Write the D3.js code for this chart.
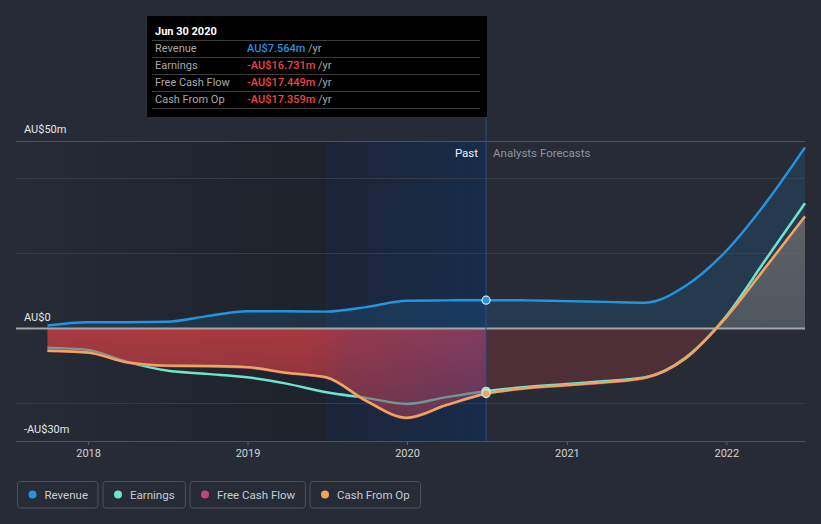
<!DOCTYPE html>
<html>
<head>
<meta charset="utf-8">
<script src="https://cdn.jsdelivr.net/npm/d3@7"></script>
<style>
  html, body { margin: 0; padding: 0; background: #262b36; }
  svg { display: block; font-family: Roboto, "Noto Sans", sans-serif; }
</style>
</head>
<body>
<svg id="chart" width="821" height="524"></svg>
<script>
// ---------------- DATA ----------------
const dates = ["2017-09-30","2017-12-31","2018-03-31","2018-06-30","2018-09-30","2018-12-31",
  "2019-03-31","2019-06-30","2019-09-30","2019-12-31","2020-03-31","2020-06-30",
  "2020-09-30","2020-12-31","2021-03-31","2021-06-30","2021-09-30","2021-12-31","2022-03-31","2022-06-30"];
const revenue  = [0.8, 1.7, 1.7, 1.8, 3.3, 4.6, 4.6, 4.5, 5.7, 7.4, 7.5, 7.564,
  7.5, 7.3, 7.1, 6.9, 11.4, 20.6, 33.3, 48.3];
const earnings = [-5.1, -5.7, -8.9, -11.2, -12.1, -13.0, -14.7, -17.0, -18.5, -20.1, -18.3, -16.731,
  -15.6, -14.8, -14.0, -13.0, -7.7, 3.2, 18.2, 33.4];
const freeCashFlow = [-6.0, -6.4, -9.1, -10.0, -10.1, -10.4, -11.9, -13.1, -19.4, -23.9, -20.5, -17.449,
  -16.0, -15.2, -14.4, -13.2, -8.0, 2.8, 16.1, 29.8];
const cashFromOp = [-5.9, -6.4, -9.0, -9.9, -10.0, -10.3, -11.8, -13.0, -19.3, -23.8, -20.4, -17.359,
  -15.9, -15.1, -14.3, -13.1, -7.9, 2.9, 16.2, 29.9];

const currentDate = "2020-06-30";
const highlightStart = "2019-06-30";
const domainStart = "2017-07-20";
const domainEnd = "2022-06-30";

const yDomain = [-30, 50];
const yGridValues = [-20, 20, 40];
const yLabelValues = [50, 0, -30];
const yLabels = ["AU$50m", "AU$0", "-AU$30m"];

const tooltipTitle = "Jun 30 2020";
const tooltipLabels = ["Revenue", "Earnings", "Free Cash Flow", "Cash From Op"];
const tooltipValues = ["AU$7.564m", "-AU$16.731m", "-AU$17.449m", "-AU$17.359m"];
const tooltipUnit = "/yr";

const legendNames = ["Revenue", "Earnings", "Free Cash Flow", "Cash From Op"];
const seriesColors = ["#2394df", "#6fe3cf", "#c2457f", "#e9a95c"];

// ---------------- SETUP ----------------
const parse = d3.timeParse("%Y-%m-%d");
const T = dates.map(parse);
const svg = d3.select("#chart");
const W = 821, H = 524;
const pLeft = 16, pRight = 805, pTop = 141, pBottom = 441;

const x = d3.scaleTime().domain([parse(domainStart), parse(domainEnd)]).range([pLeft, pRight]);
const y = d3.scaleLinear().domain(yDomain).range([pBottom, pTop]);
const xNow = x(parse(currentDate));
const xHl = x(parse(highlightStart));
const y0 = y(0);

const defs = svg.append("defs");

// background
svg.append("rect").attr("width", W).attr("height", H).attr("fill", "#262b36");

// past darkening gradient
const gPast = defs.append("linearGradient").attr("id", "pastBg")
  .attr("gradientUnits", "userSpaceOnUse").attr("x1", pLeft).attr("x2", xHl).attr("y1", 0).attr("y2", 0);
gPast.append("stop").attr("offset", 0).attr("stop-color", "#000").attr("stop-opacity", 0.0);
gPast.append("stop").attr("offset", 1).attr("stop-color", "#000").attr("stop-opacity", 0.22);
svg.append("rect").attr("x", pLeft).attr("y", pTop).attr("width", xHl - pLeft).attr("height", pBottom - pTop)
  .attr("fill", "url(#pastBg)");

// highlight
const gHl = defs.append("linearGradient").attr("id", "hlBg")
  .attr("gradientUnits", "userSpaceOnUse").attr("x1", xHl).attr("x2", xNow).attr("y1", 0).attr("y2", 0);
gHl.append("stop").attr("offset", 0).attr("stop-color", "#1c2537");
gHl.append("stop").attr("offset", 1).attr("stop-color", "#172c4b");
svg.append("rect").attr("x", xHl).attr("y", pTop).attr("width", xNow - xHl).attr("height", pBottom - pTop)
  .attr("fill", "url(#hlBg)");

// grid lines
svg.append("g").selectAll("line").data(yGridValues).join("line")
  .attr("x1", pLeft).attr("x2", pRight).attr("y1", d => y(d)).attr("y2", d => y(d))
  .attr("stroke", "#343a47").attr("stroke-width", 1);
svg.append("line").attr("x1", pLeft).attr("x2", pRight).attr("y1", y(yDomain[1]) + 0.5).attr("y2", y(yDomain[1]) + 0.5)
  .attr("stroke", "#4a505c").attr("stroke-width", 1);

// x axis
const xAxis = svg.append("g").attr("transform", `translate(0,${pBottom})`)
  .call(d3.axisBottom(x).ticks(d3.timeYear.every(1)).tickFormat(d3.timeFormat("%Y")).tickSize(4).tickPadding(4));
xAxis.select(".domain").remove();
xAxis.selectAll(".tick line").attr("stroke", "#5a606c");
xAxis.selectAll(".tick text").attr("fill", "#d4d4d4").attr("font-size", 11).attr("font-family", "Roboto, sans-serif");
svg.append("line").attr("x1", pLeft).attr("x2", pRight).attr("y1", pBottom + 0.5).attr("y2", pBottom + 0.5)
  .attr("stroke", "#4c525e").attr("stroke-width", 1);

// clip paths
defs.append("clipPath").attr("id", "clipPast").append("rect")
  .attr("x", 0).attr("y", 0).attr("width", xNow).attr("height", H);
defs.append("clipPath").attr("id", "clipFore").append("rect")
  .attr("x", xNow).attr("y", 0).attr("width", W - xNow).attr("height", H);
defs.append("clipPath").attr("id", "clipPos").append("rect")
  .attr("x", 0).attr("y", 0).attr("width", W).attr("height", y0);
defs.append("clipPath").attr("id", "clipNeg").append("rect")
  .attr("x", 0).attr("y", y0).attr("width", W).attr("height", H - y0);

const curve = d3.curveMonotoneX;
const lineGen = d3.line().x((d, i) => x(T[i])).y(d => y(d)).curve(curve);
const areaGen = d3.area().x((d, i) => x(T[i])).y0(y0).y1(d => y(d)).curve(curve);

// revenue area
svg.append("path").attr("d", areaGen(revenue)).attr("fill", seriesColors[0]).attr("fill-opacity", 0.15);

// FCF area: past negative (red gradient)
const gRed = defs.append("linearGradient").attr("id", "redPast")
  .attr("gradientUnits", "userSpaceOnUse").attr("x1", pLeft).attr("x2", xNow).attr("y1", 0).attr("y2", 0);
gRed.append("stop").attr("offset", 0).attr("stop-color", "rgb(204,62,68)");
gRed.append("stop").attr("offset", (xHl - 20 - pLeft) / (xNow - pLeft)).attr("stop-color", "rgb(204,62,68)");
gRed.append("stop").attr("offset", (xHl + 20 - pLeft) / (xNow - pLeft)).attr("stop-color", "rgb(182,62,82)");
gRed.append("stop").attr("offset", 1).attr("stop-color", "rgb(155,65,102)");
const gMask = defs.append("linearGradient").attr("id", "vMaskGrad")
  .attr("gradientUnits", "userSpaceOnUse").attr("x1", 0).attr("x2", 0).attr("y1", y0).attr("y2", y(-25));
gMask.append("stop").attr("offset", 0).attr("stop-color", "#fff").attr("stop-opacity", 0.8);
gMask.append("stop").attr("offset", 1).attr("stop-color", "#fff").attr("stop-opacity", 0.55);
defs.append("mask").attr("id", "vMask").attr("maskUnits", "userSpaceOnUse")
  .attr("x", 0).attr("y", 0).attr("width", W).attr("height", H)
  .append("rect").attr("width", W).attr("height", H).attr("fill", "url(#vMaskGrad)");

svg.append("g").attr("clip-path", "url(#clipPast)")
  .append("g").attr("clip-path", "url(#clipNeg)")
  .append("path").attr("d", areaGen(freeCashFlow)).attr("fill", "url(#redPast)").attr("mask", "url(#vMask)");

// forecast negative
svg.append("g").attr("clip-path", "url(#clipFore)")
  .append("g").attr("clip-path", "url(#clipNeg)")
  .append("path").attr("d", areaGen(freeCashFlow)).attr("fill", "rgb(200,58,64)").attr("fill-opacity", 0.25);

// forecast positive (grey)
const gGrey = defs.append("linearGradient").attr("id", "greyFore")
  .attr("gradientUnits", "userSpaceOnUse").attr("x1", 0).attr("x2", 0).attr("y1", y(30)).attr("y2", y0);
gGrey.append("stop").attr("offset", 0).attr("stop-color", "rgb(118,114,112)").attr("stop-opacity", 0.72);
gGrey.append("stop").attr("offset", 1).attr("stop-color", "rgb(118,114,112)").attr("stop-opacity", 0.5);
svg.append("g").attr("clip-path", "url(#clipFore)")
  .append("g").attr("clip-path", "url(#clipPos)")
  .append("path").attr("d", areaGen(freeCashFlow)).attr("fill", "url(#greyFore)");

// zero line
svg.append("line").attr("x1", pLeft).attr("x2", pRight).attr("y1", y0).attr("y2", y0)
  .attr("stroke", "#a4a4a4").attr("stroke-width", 2);

// current date vertical line
svg.append("line").attr("x1", xNow).attr("x2", xNow).attr("y1", 117).attr("y2", pBottom)
  .attr("stroke", "#2a4d7e").attr("stroke-width", 1);

// earnings: full outside past FCF area, muted inside
const areaClip = defs.append("clipPath").attr("id", "clipFcfArea");
areaClip.append("path").attr("d", areaGen(freeCashFlow));
const outMask = defs.append("mask").attr("id", "outsideArea").attr("maskUnits", "userSpaceOnUse")
  .attr("x", 0).attr("y", 0).attr("width", W).attr("height", H);
outMask.append("rect").attr("width", W).attr("height", H).attr("fill", "#fff");
outMask.append("path").attr("d", areaGen(freeCashFlow)).attr("fill", "#000")
  .attr("clip-path", "url(#clipPast)");

svg.append("path").attr("d", lineGen(earnings)).attr("fill", "none")
  .attr("stroke", seriesColors[1]).attr("stroke-width", 2.5).attr("mask", "url(#outsideArea)");
svg.append("g").attr("clip-path", "url(#clipPast)")
  .append("g").attr("clip-path", "url(#clipFcfArea)")
  .append("path").attr("d", lineGen(earnings)).attr("fill", "none")
  .attr("stroke", seriesColors[1]).attr("stroke-opacity", 0.55).attr("stroke-width", 2.5);

// other lines
svg.append("path").attr("d", lineGen(freeCashFlow)).attr("fill", "none")
  .attr("stroke", seriesColors[2]).attr("stroke-width", 2.5);
svg.append("path").attr("d", lineGen(cashFromOp)).attr("fill", "none")
  .attr("stroke", seriesColors[3]).attr("stroke-width", 2.5);
svg.append("path").attr("d", lineGen(revenue)).attr("fill", "none")
  .attr("stroke", seriesColors[0]).attr("stroke-width", 2.5);

// dots at current date
const nowIdx = dates.indexOf(currentDate);
const dotSeries = [[earnings, seriesColors[1]], [cashFromOp, seriesColors[3]], [revenue, seriesColors[0]]];
svg.append("g").selectAll("circle").data(dotSeries).join("circle")
  .attr("cx", xNow).attr("cy", d => y(d[0][nowIdx])).attr("r", 4)
  .attr("fill", d => d[1]).attr("stroke", "#d8e6f0").attr("stroke-width", 1.2);

// Past / forecast labels
svg.append("text").attr("x", xNow - 8).attr("y", 157).attr("text-anchor", "end")
  .attr("fill", "#f0f0f0").attr("font-size", 11.5).text("Past");
svg.append("text").attr("x", xNow + 7).attr("y", 157)
  .attr("fill", "#8e949d").attr("font-size", 11.5).text("Analysts Forecasts");

// y labels
svg.append("g").selectAll("text").data(yLabelValues).join("text")
  .attr("x", 24).attr("y", d => y(d) - 8)
  .attr("fill", "#e6e6e6").attr("font-size", 11).text((d, i) => yLabels[i]);

// tooltip
const tt = svg.append("g");
tt.append("rect").attr("x", 147).attr("y", 16).attr("width", 340).attr("height", 101).attr("fill", "#000");
tt.append("text").attr("x", 155).attr("y", 35).attr("fill", "#fff").attr("font-size", 11)
  .attr("font-weight", "bold").text(tooltipTitle);
const rowY = [40.5, 57.5, 74.5, 91.5, 108.5];
tt.selectAll("line").data(rowY).join("line")
  .attr("x1", 152).attr("x2", 480).attr("y1", d => d).attr("y2", d => d)
  .attr("stroke", "#3c3c3c").attr("stroke-width", 1);
const valColors = tooltipValues.map(v => v.startsWith("-") ? "#ee4444" : "#2394df");
tooltipLabels.forEach((lab, i) => {
  tt.append("text").attr("x", 155).attr("y", 52 + i * 17).attr("fill", "#a8a8a8").attr("font-size", 11).text(lab);
  const t = tt.append("text").attr("x", 247).attr("y", 52 + i * 17).attr("font-size", 11);
  t.append("tspan").attr("fill", valColors[i]).attr("font-weight", 500).text(tooltipValues[i]);
  t.append("tspan").attr("fill", "#a8a8a8").text(" " + tooltipUnit);
});

// legend
const legendX = [17, 102.5, 189.5, 309.5];
const legendW = [80.5, 82.5, 115.5, 110.5];
const lg = svg.append("g");
legendNames.forEach((name, i) => {
  lg.append("rect").attr("x", legendX[i] + 0.5).attr("y", 481.5).attr("width", legendW[i]).attr("height", 26.5)
    .attr("rx", 3).attr("fill", "none").attr("stroke", "#4a505b").attr("stroke-width", 1);
  lg.append("circle").attr("cx", legendX[i] + 15.5).attr("cy", 494.5).attr("r", 4).attr("fill", seriesColors[i]);
  lg.append("text").attr("x", legendX[i] + 27.5).attr("y", 498.5).attr("fill", "#c8cbd0")
    .attr("font-size", 11.5).text(name);
});
</script>
</body>
</html>
